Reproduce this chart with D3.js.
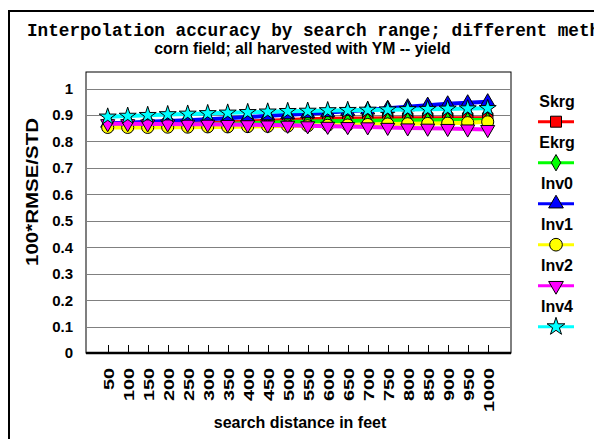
<!DOCTYPE html>
<html>
<head>
<meta charset="utf-8">
<script src="https://cdn.jsdelivr.net/npm/d3@7"></script>
<style>
  body { margin: 0; background: #fff; }
  text { font-family: Arial, "Liberation Sans", sans-serif; font-weight: bold; fill: #000; }
</style>
</head>
<body>
<div id="chart"></div>
<script>
// search distance (feet)
const distances = [50, 100, 150, 200, 250, 300, 350, 400, 450, 500, 550, 600, 650, 700, 750, 800, 850, 900, 950, 1000];

const skrg = [0.861, 0.862, 0.864, 0.866, 0.868, 0.870, 0.872, 0.875, 0.878, 0.881, 0.884, 0.886, 0.887, 0.887, 0.888, 0.888, 0.888, 0.888, 0.888, 0.888];
const ekrg = [0.860, 0.861, 0.862, 0.863, 0.864, 0.866, 0.867, 0.869, 0.871, 0.873, 0.875, 0.876, 0.877, 0.878, 0.879, 0.880, 0.880, 0.881, 0.881, 0.881];
const inv0 = [0.869, 0.871, 0.874, 0.877, 0.880, 0.884, 0.888, 0.892, 0.897, 0.901, 0.905, 0.909, 0.914, 0.919, 0.925, 0.931, 0.937, 0.942, 0.946, 0.950];
const inv1 = [0.853, 0.853, 0.853, 0.854, 0.854, 0.855, 0.855, 0.856, 0.857, 0.858, 0.859, 0.861, 0.862, 0.864, 0.866, 0.867, 0.868, 0.869, 0.871, 0.874];
const inv2 = [0.867, 0.867, 0.866, 0.866, 0.865, 0.865, 0.864, 0.863, 0.862, 0.861, 0.859, 0.857, 0.856, 0.855, 0.853, 0.851, 0.850, 0.849, 0.847, 0.845];
const inv4 = [0.893, 0.896, 0.899, 0.902, 0.904, 0.906, 0.908, 0.910, 0.912, 0.914, 0.915, 0.917, 0.918, 0.919, 0.920, 0.921, 0.922, 0.923, 0.924, 0.925];

const yTicks = [0, 0.1, 0.2, 0.3, 0.4, 0.5, 0.6, 0.7, 0.8, 0.9, 1];

const series = [
  { name: 'Skrg', values: skrg, color: '#ff0000', symbol: d3.symbolSquare, size: 110, rot: 0 },
  { name: 'Ekrg', values: ekrg, color: '#00ff00', symbol: d3.symbolDiamond, size: 70, rot: 0 },
  { name: 'Inv0', values: inv0, color: '#0000ff', symbol: d3.symbolTriangle, size: 85, rot: 0 },
  { name: 'Inv1', values: inv1, color: '#ffff00', symbol: d3.symbolCircle, size: 115, rot: 0 },
  { name: 'Inv2', values: inv2, color: '#ff00ff', symbol: d3.symbolTriangle, size: 85, rot: 180 },
  { name: 'Inv4', values: inv4, color: '#00ffff', symbol: d3.symbolStar, size: 90, rot: 0 }
];

const W = 594, H = 439;
const plot = { left: 86, top: 72, right: 511, bottom: 353 };

const svg = d3.select('#chart').append('svg')
  .attr('width', W)
  .attr('height', H);

svg.append('rect').attr('width', W).attr('height', H).attr('fill', '#fff');

// outer chart frame (runs off the right and bottom edges)
svg.append('rect')
  .attr('x', 9).attr('y', 11)
  .attr('width', 700).attr('height', 500)
  .attr('fill', 'none').attr('stroke', '#000').attr('stroke-width', 2);

const x = d3.scalePoint()
  .domain(distances)
  .range([107.7, 487.7]);

const y = d3.scaleLinear()
  .domain([0, 1])
  .range([353.2, 88.5]);

// plot area
svg.append('rect')
  .attr('x', plot.left).attr('y', plot.top)
  .attr('width', plot.right - plot.left).attr('height', plot.bottom - plot.top)
  .attr('fill', '#fff').attr('stroke', '#000').attr('stroke-width', 1);

// gridlines
svg.append('g')
  .selectAll('line')
  .data(yTicks.filter(d => d > 0))
  .enter().append('line')
  .attr('x1', plot.left + 0.5).attr('x2', plot.right - 0.5)
  .attr('y1', d => Math.round(y(d)) + 0.5)
  .attr('y2', d => Math.round(y(d)) + 0.5)
  .attr('stroke', '#808080').attr('stroke-width', 1);

// y axis labels
svg.append('g')
  .selectAll('text')
  .data(yTicks)
  .enter().append('text')
  .attr('x', 73)
  .attr('y', d => y(d))
  .attr('dy', '0.35em')
  .attr('text-anchor', 'end')
  .style('font-size', '15px')
  .text(d => d === 0 ? '0' : d3.format('')(d));

// x axis line and inward ticks
svg.append('line')
  .attr('x1', plot.left).attr('x2', plot.right)
  .attr('y1', plot.bottom).attr('y2', plot.bottom)
  .attr('stroke', '#000').attr('stroke-width', 2.5);

svg.append('g')
  .selectAll('line')
  .data(distances)
  .enter().append('line')
  .attr('x1', d => Math.round(x(d)) + 0.5)
  .attr('x2', d => Math.round(x(d)) + 0.5)
  .attr('y1', plot.bottom - 8).attr('y2', plot.bottom)
  .attr('stroke', '#000').attr('stroke-width', 1);

// rotated x labels
svg.append('g')
  .selectAll('text')
  .data(distances)
  .enter().append('text')
  .attr('transform', d => `translate(${x(d) + 0.5},368) rotate(-90) scale(1.28,1)`)
  .attr('dy', '0.36em')
  .attr('text-anchor', 'end')
  .style('font-size', '15.5px')
  .text(d => d);

// lines and markers
const line = d3.line()
  .x((d, i) => x(distances[i]))
  .y(d => y(d));

series.forEach(s => {
  const g = svg.append('g');
  g.append('path')
    .datum(s.values)
    .attr('d', line)
    .attr('fill', 'none')
    .attr('stroke', s.color)
    .attr('stroke-width', 4);
  g.selectAll('path.mk')
    .data(s.values)
    .enter().append('path')
    .attr('class', 'mk')
    .attr('d', d3.symbol().type(s.symbol).size(s.size))
    .attr('transform', (d, i) => `translate(${x(distances[i])},${y(d)}) rotate(${s.rot})`)
    .attr('fill', s.color)
    .attr('stroke', '#000')
    .attr('stroke-width', 1);
});

// legend
const legend = svg.append('g');
series.forEach((s, i) => {
  const ly = 121.7 + i * 41;
  legend.append('text')
    .attr('x', 557).attr('y', ly - 15)
    .attr('text-anchor', 'middle')
    .style('font-size', '16px')
    .text(s.name);
  legend.append('line')
    .attr('x1', 538).attr('x2', 574)
    .attr('y1', ly).attr('y2', ly)
    .attr('stroke', s.color).attr('stroke-width', 3);
  legend.append('path')
    .attr('d', d3.symbol().type(s.symbol).size(s.size * 1.1))
    .attr('transform', `translate(556,${ly}) rotate(${s.rot})`)
    .attr('fill', s.color)
    .attr('stroke', '#000')
    .attr('stroke-width', 1);
});

// titles
svg.append('text')
  .attr('x', 27).attr('y', 36)
  .style('font-family', '"Liberation Mono", "Courier New", monospace')
  .style('font-size', '17.7px')
  .text('Interpolation accuracy by search range; different methods');

svg.append('text')
  .attr('x', 302.5).attr('y', 54)
  .attr('text-anchor', 'middle')
  .style('font-size', '15.8px')
  .text('corn field; all harvested with YM -- yield');

svg.append('text')
  .attr('x', 300).attr('y', 428)
  .attr('text-anchor', 'middle')
  .style('font-size', '16px')
  .text('search distance in feet');

svg.append('text')
  .attr('transform', 'translate(38,192) rotate(-90) scale(1.28,1)')
  .attr('text-anchor', 'middle')
  .style('font-size', '16px')
  .text('100*RMSE/STD');
</script>
</body>
</html>
